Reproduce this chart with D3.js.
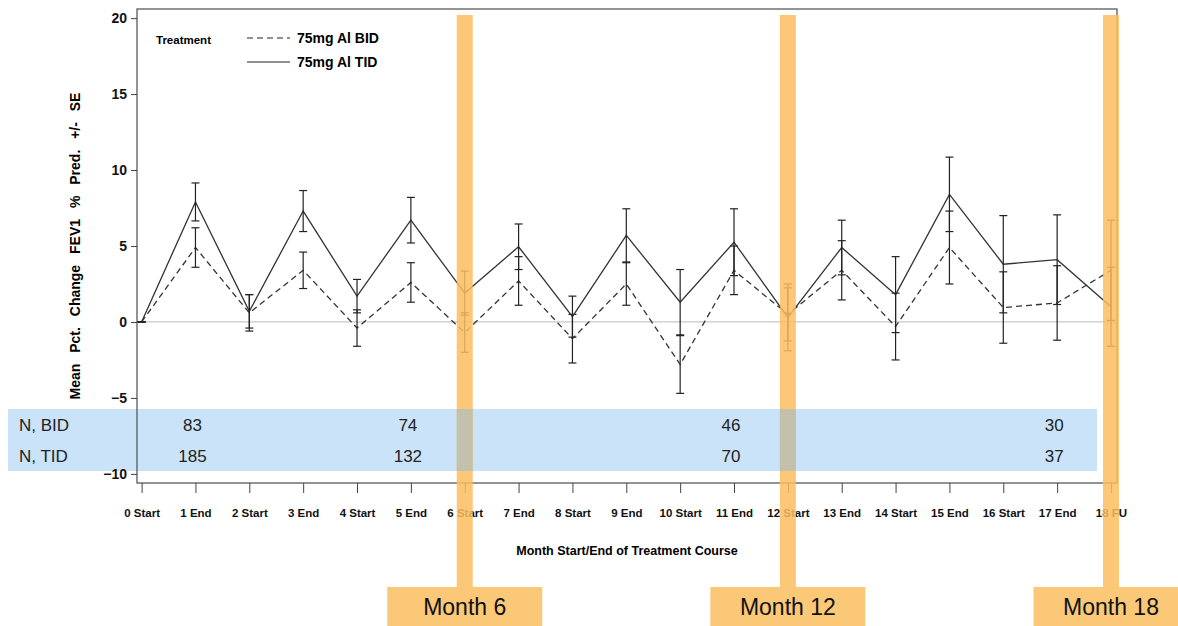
<!DOCTYPE html>
<html>
<head>
<meta charset="utf-8">
<script src="https://cdn.jsdelivr.net/npm/d3@7"></script>
<style>
  body { margin: 0; background: #fff; }
  svg { display: block; }
</style>
</head>
<body>
<div id="chart"></div>
<script>
// Visits along the x axis
const visits = ['0 Start', '1 End', '2 Start', '3 End', '4 Start', '5 End', '6 Start', '7 End', '8 Start',
  '9 End', '10 Start', '11 End', '12 Start', '13 End', '14 Start', '15 End', '16 Start', '17 End', '18 FU'];

// 75mg AI BID (dashed)
const bidMean = [0, 4.9, 0.6, 3.4, -0.4, 2.6, -0.7, 2.7, -1.1, 2.5, -2.8, 3.4, 0.5, 3.4, -0.3, 4.9, 0.95, 1.25, 3.4];
const bidSE   = [0, 1.3, 1.2, 1.2, 1.2, 1.3, 1.3, 1.6, 1.6, 1.4, 1.9, 1.6, 1.75, 1.95, 2.2, 2.4, 2.35, 2.45, 3.3];

// 75mg AI TID (solid)
const tidMean = [0, 7.9, 0.7, 7.3, 1.7, 6.7, 1.9, 4.95, 0.35, 5.7, 1.3, 5.25, 0.3, 4.9, 1.8, 8.4, 3.8, 4.1, 1.0];
const tidSE   = [0, 1.25, 1.1, 1.35, 1.1, 1.5, 1.45, 1.5, 1.35, 1.75, 2.15, 2.2, 2.2, 1.8, 2.5, 2.45, 3.2, 2.95, 2.6];

const yTicks = [-10, -5, 0, 5, 10, 15, 20];

// N table
const nVisits = ['1 End', '5 End', '11 End', '17 End'];
const nBID = [83, 74, 46, 30];
const nTID = [185, 132, 70, 37];

// Highlighted months
const monthVisits = ['6 Start', '12 Start', '18 FU'];
const monthLabels = ['Month 6', 'Month 12', 'Month 18'];

const W = 1178, H = 626;
const plot = { left: 137, right: 1117, top: 9, bottom: 483 };
const SAS = "'Liberation Sans Narrow','Arial Narrow','Liberation Sans',Arial,sans-serif";
const ARIAL = "'Liberation Sans',Arial,sans-serif";
const ORANGE = 'rgb(252,190,96)';

const svg = d3.select('#chart').append('svg')
  .attr('width', W)
  .attr('height', H);

const x = d3.scalePoint()
  .domain(visits)
  .range([141.6, 1111]);

const y = d3.scaleLinear()
  .domain([-10.6, 20.6])
  .range([plot.bottom, plot.top]);

// N table band
const band = { top: 409, bottom: 471, left: 8, right: 1097 };
svg.append('rect')
  .attr('x', band.left).attr('y', band.top)
  .attr('width', band.right - band.left).attr('height', band.bottom - band.top)
  .attr('fill', '#cbe3f9');

// zero reference line
svg.append('line')
  .attr('x1', plot.left).attr('x2', plot.right)
  .attr('y1', y(0)).attr('y2', y(0))
  .attr('stroke', '#c8c8c8').attr('stroke-width', 1.2);

// frame
svg.append('rect')
  .attr('x', plot.left).attr('y', plot.top)
  .attr('width', plot.right - plot.left).attr('height', plot.bottom - plot.top)
  .attr('fill', 'none').attr('stroke', '#5a5a5a').attr('stroke-width', 1.3);

// axes
const yAxis = svg.append('g')
  .attr('transform', `translate(${plot.left},0)`)
  .call(d3.axisLeft(y).tickValues(yTicks).tickSize(6).tickPadding(4));
yAxis.select('.domain').remove();
yAxis.selectAll('text')
  .style('font-family', SAS).style('font-size', '14px').style('font-weight', 'bold').attr('fill', '#111');
yAxis.selectAll('line').attr('stroke', '#444');

const xAxis = svg.append('g')
  .attr('transform', `translate(0,${plot.bottom})`)
  .call(d3.axisBottom(x).tickSize(10).tickPadding(16));
xAxis.select('.domain').remove();
xAxis.selectAll('text')
  .style('font-family', SAS).style('font-size', '11.5px').style('font-weight', 'bold').attr('fill', '#111');
xAxis.selectAll('line').attr('stroke', '#444');

// axis titles
svg.append('text')
  .attr('x', (plot.left + plot.right) / 2).attr('y', 555)
  .attr('text-anchor', 'middle')
  .style('font-family', SAS).style('font-size', '12.5px').style('font-weight', 'bold')
  .text('Month Start/End of Treatment Course');

svg.append('text')
  .attr('transform', `translate(80,${(plot.top + plot.bottom) / 2}) rotate(-90)`)
  .attr('text-anchor', 'middle')
  .style('font-family', SAS).style('font-size', '14px').style('font-weight', 'bold')
  .style('word-spacing', '7px')
  .text('Mean Pct. Change FEV1 % Pred. +/- SE');

// series
const series = [
  { mean: bidMean, se: bidSE, dash: '6,4' },
  { mean: tidMean, se: tidSE, dash: null }
];

const line = d3.line()
  .x((d, i) => x(visits[i]))
  .y(d => y(d));

series.forEach(s => {
  const g = svg.append('g');
  g.append('path')
    .datum(s.mean)
    .attr('d', line)
    .attr('fill', 'none')
    .attr('stroke', '#333')
    .attr('stroke-width', 1.3)
    .attr('stroke-dasharray', s.dash);

  const bars = g.selectAll('.err')
    .data(visits)
    .enter().append('g')
    .attr('class', 'err')
    .attr('stroke', '#222')
    .attr('stroke-width', 1.2);
  bars.append('line')
    .attr('x1', d => x(d)).attr('x2', d => x(d))
    .attr('y1', (d, i) => y(s.mean[i] - s.se[i]))
    .attr('y2', (d, i) => y(s.mean[i] + s.se[i]));
  [-1, 1].forEach(k => {
    bars.append('line')
      .attr('x1', d => x(d) - 4).attr('x2', d => x(d) + 4)
      .attr('y1', (d, i) => y(s.mean[i] + k * s.se[i]))
      .attr('y2', (d, i) => y(s.mean[i] + k * s.se[i]));
  });
});

// legend
const lg = svg.append('g').style('font-family', SAS).style('font-weight', 'bold');
lg.append('text').attr('x', 156).attr('y', 44).style('font-size', '11.5px').text('Treatment');
[['75mg Al BID', '6,4', 38], ['75mg Al TID', null, 62]].forEach(([label, dash, ly]) => {
  lg.append('line')
    .attr('x1', 247).attr('x2', 290).attr('y1', ly).attr('y2', ly)
    .attr('stroke', '#222').attr('stroke-width', 1.2)
    .attr('stroke-dasharray', dash);
  lg.append('text').attr('x', 297).attr('y', ly + 5).style('font-size', '14px').text(label);
});

// highlighted months: orange bands and labels
const bandW = 16, boxW = 155, boxTop = 587;
monthVisits.forEach((v, i) => {
  const cx = x(v);
  svg.append('rect')
    .attr('x', cx - bandW / 2).attr('y', 15)
    .attr('width', bandW).attr('height', boxTop - 15)
    .attr('fill', ORANGE).attr('opacity', 0.85);
  // where the band crosses the N table
  svg.append('rect')
    .attr('x', cx - bandW / 2).attr('y', band.top)
    .attr('width', Math.min(bandW, band.right - (cx - bandW / 2))).attr('height', band.bottom - band.top)
    .attr('fill', '#c3c1ab');
  svg.append('rect')
    .attr('x', cx - boxW / 2).attr('y', boxTop)
    .attr('width', boxW).attr('height', H - boxTop)
    .attr('fill', 'rgb(251,200,120)');
  svg.append('text')
    .attr('x', cx).attr('y', 615)
    .attr('text-anchor', 'middle')
    .style('font-family', ARIAL).style('font-size', '23px')
    .attr('fill', '#111')
    .text(monthLabels[i]);
});

// N table text
const nt = svg.append('g').style('font-family', ARIAL).style('font-size', '17px').attr('fill', '#222');
[['N, BID', nBID, 431], ['N, TID', nTID, 462]].forEach(([label, vals, ty]) => {
  nt.append('text').attr('x', 19).attr('y', ty).text(label);
  nt.selectAll(null)
    .data(vals)
    .enter().append('text')
    .attr('x', (d, i) => x(nVisits[i]) - 3)
    .attr('y', ty)
    .attr('text-anchor', 'middle')
    .text(d => d);
});
</script>
</body>
</html>
